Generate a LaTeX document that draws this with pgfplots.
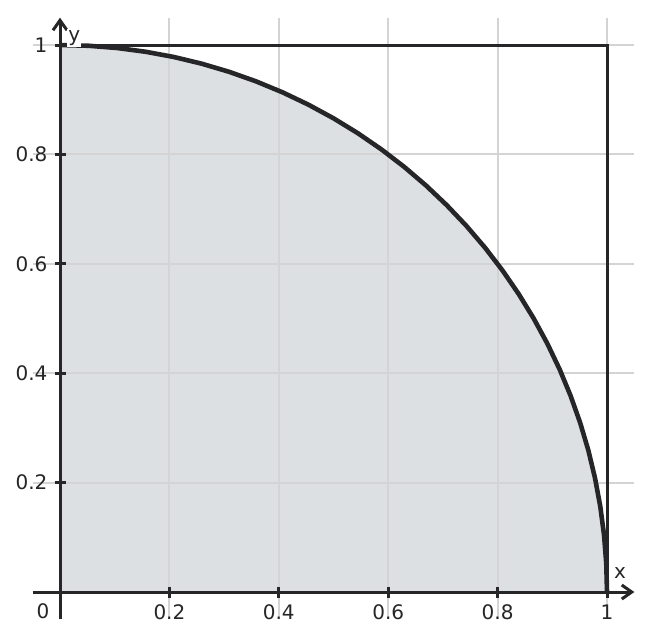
\documentclass[border=0pt]{standalone}
\usepackage{pgfplots}
\pgfplotsset{compat=1.18}
\usepackage{fontspec}
\setmainfont{DejaVu Sans}
\usetikzlibrary{arrows.meta}
\definecolor{fillc}{RGB}{220,224,227}
\definecolor{dk}{RGB}{38,38,40}
\definecolor{gridc}{RGB}{212,212,212}
\begin{document}
\begin{tikzpicture}
\begin{axis}[
  set layers,
  scale only axis, width=300.85pt, height=300.85pt,
  xmin=-0.05, xmax=1.05, ymin=-0.05, ymax=1.05,
  axis lines=middle,
  axis line style={line width=1.5pt, color=dk, -{Straight Barb[length=5pt,width=7pt,line width=1.5pt]}},
  xtick={0,0.2,0.4,0.6,0.8,1}, ytick={0,0.2,0.4,0.6,0.8,1},
  xticklabels={{},0.2,0.4,0.6,0.8,1}, yticklabels={{},0.2,0.4,0.6,0.8,1},
  tick align=center, major tick length=5.5pt,
  tick style={line width=1.5pt, color=dk},
  grid=major, grid style={gridc, line width=1pt},
  clip=false,
  tick label style={font=\fontsize{10}{12}\selectfont, text=dk},
]
\addplot[fill=fillc, draw=none, on layer=axis background] coordinates {
(0,0) (1.0000,0.0000) (0.99863,0.05234) (0.99452,0.10453) (0.98769,0.15643) (0.97815,0.20791)
(0.96593,0.25882) (0.95106,0.30902) (0.93358,0.35837) (0.91355,0.40674) (0.89101,0.45399)
(0.86603,0.5) (0.83867,0.54464) (0.80902,0.58779) (0.77715,0.62932) (0.74314,0.66913)
(0.70711,0.70711) (0.66913,0.74314) (0.62932,0.77715) (0.58779,0.80902) (0.54464,0.83867)
(0.5,0.86603) (0.45399,0.89101) (0.40674,0.91355) (0.35837,0.93358) (0.30902,0.95106)
(0.25882,0.96593) (0.20791,0.97815) (0.15643,0.98769) (0.10453,0.99452) (0.05234,0.99863)
(0,1) (0,0)
};
\addplot[draw=dk, line width=1.5pt] coordinates {(0,0) (1,0) (1,1) (0,1) (0,0)};
\addplot[draw=dk, line width=2.3pt] coordinates {
(1.0000,0.0000) (0.99863,0.05234) (0.99452,0.10453) (0.98769,0.15643) (0.97815,0.20791)
(0.96593,0.25882) (0.95106,0.30902) (0.93358,0.35837) (0.91355,0.40674) (0.89101,0.45399)
(0.86603,0.5) (0.83867,0.54464) (0.80902,0.58779) (0.77715,0.62932) (0.74314,0.66913)
(0.70711,0.70711) (0.66913,0.74314) (0.62932,0.77715) (0.58779,0.80902) (0.54464,0.83867)
(0.5,0.86603) (0.45399,0.89101) (0.40674,0.91355) (0.35837,0.93358) (0.30902,0.95106)
(0.25882,0.96593) (0.20791,0.97815) (0.15643,0.98769) (0.10453,0.99452) (0.05234,0.99863)
(0,1)
};
\node[fill=white, inner sep=0.6pt, text=dk, font=\fontsize{10}{12}\selectfont] at (axis cs:0.026,1.013) {y};
\node[text=dk, font=\fontsize{10}{12}\selectfont] at (axis cs:1.024,0.035) {x};
\node[text=dk, font=\fontsize{10}{12}\selectfont] at (axis cs:-0.031,-0.036) {0};
\path (axis cs:-0.1097,-0.0896) rectangle (axis cs:1.0841,1.0823);
\end{axis}
\end{tikzpicture}
\end{document}
